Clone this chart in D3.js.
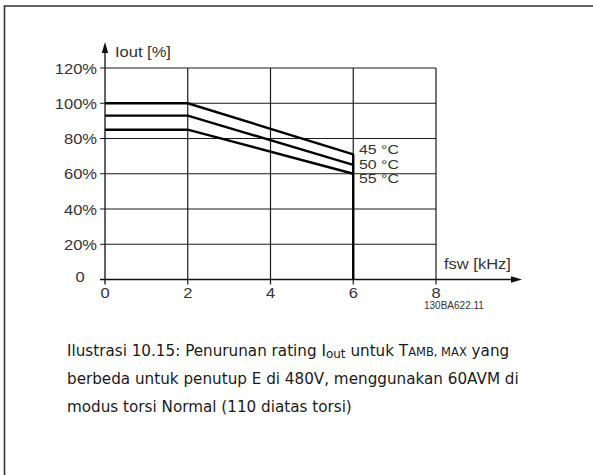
<!DOCTYPE html>
<html>
<head>
<meta charset="utf-8">
<script src="https://cdn.jsdelivr.net/npm/d3@7"></script>
<style>
  html, body { margin: 0; padding: 0; background: #fff; }
  svg { display: block; }
  .lbl { font-family: "Liberation Sans", Arial, sans-serif; fill: #333; }
  .cap { font-family: "DejaVu Sans", sans-serif; fill: #1a1a1a; }
</style>
</head>
<body>
<svg id="chart" width="593" height="475"></svg>
<script>
// Switching frequency (kHz) at the curve break points
const fswPoints = [0, 2, 6];
// Output current derating (%) per ambient temperature
const series = [
  { name: "45 °C", values: [100, 100, 71] },
  { name: "50 °C", values: [93, 93, 65] },
  { name: "55 °C", values: [85, 85, 60] }
];
const xTicks = [0, 2, 4, 6, 8];
const yTicks = [0, 20, 40, 60, 80, 100, 120];
const yTickLabels = ["0", "20%", "40%", "60%", "80%", "100%", "120%"];
const captionLines = [
  [["Ilustrasi 10.15: Penurunan rating I", "n"], ["out", "sub"], [" untuk T", "n"], ["AMB, MAX", "sc"], [" yang", "n"]],
  [["berbeda untuk penutup E di 480V, menggunakan 60AVM di", "n"]],
  [["modus torsi Normal (110 diatas torsi)", "n"]]
];

const svg = d3.select("#chart");
const stretch = 1.18; // chart labels use a wide sans face

// Page frame (top and left rule)
svg.append("path")
  .attr("d", "M4.5,475 L4.5,6 L593,6")
  .attr("fill", "none").attr("stroke", "#333").attr("stroke-width", 1.6);

const x = d3.scaleLinear().domain([0, 8]).range([105, 436]);
const y = d3.scaleLinear().domain([0, 120]).range([279.5, 68]);

// Horizontal grid with left tick stubs
svg.append("g").selectAll("line").data(yTicks.filter(d => d > 0)).join("line")
  .attr("x1", x(0) - 5).attr("x2", x(8))
  .attr("y1", d => y(d)).attr("y2", d => y(d))
  .attr("stroke", "#1a1a1a").attr("stroke-width", 1.2);

// Vertical grid with bottom tick stubs
svg.append("g").selectAll("line").data(xTicks.filter(d => d > 0)).join("line")
  .attr("x1", d => x(d)).attr("x2", d => x(d))
  .attr("y1", y(120)).attr("y2", y(0) + 5)
  .attr("stroke", "#1a1a1a").attr("stroke-width", 1.2);

// Axes with arrows
svg.append("line")
  .attr("x1", x(0) - 5).attr("x2", 514)
  .attr("y1", y(0)).attr("y2", y(0))
  .attr("stroke", "#111").attr("stroke-width", 1.3);
svg.append("path")
  .attr("d", `M522,${y(0)} L511,${y(0) - 3.2} L511,${y(0) + 3.2} Z`)
  .attr("fill", "#111");
svg.append("line")
  .attr("x1", x(0)).attr("x2", x(0))
  .attr("y1", y(0) + 5).attr("y2", 50)
  .attr("stroke", "#111").attr("stroke-width", 1.3);
svg.append("path")
  .attr("d", `M${x(0)},42 L${x(0) - 3.2},53 L${x(0) + 3.2},53 Z`)
  .attr("fill", "#111");

// Derating curves
const line = d3.line().x((d, i) => x(fswPoints[i])).y(d => y(d));
svg.append("g").selectAll("path").data(series).join("path")
  .attr("d", d => line(d.values))
  .attr("fill", "none").attr("stroke", "#000").attr("stroke-width", 2.4)
  .attr("stroke-linejoin", "miter");

// Drop line at the maximum switching frequency
const fMax = fswPoints[fswPoints.length - 1];
svg.append("line")
  .attr("x1", x(fMax)).attr("x2", x(fMax))
  .attr("y1", y(d3.max(series, s => s.values[s.values.length - 1]))).attr("y2", y(0))
  .attr("stroke", "#000").attr("stroke-width", 2.4);

// Helper for horizontally stretched labels
function stretchedText(px, py, txt, anchor, size) {
  svg.append("text").attr("class", "lbl")
    .attr("transform", `translate(${px},${py}) scale(${stretch},1)`)
    .attr("text-anchor", anchor)
    .attr("font-size", size)
    .text(txt);
}

// Y tick labels
yTicks.forEach((d, i) => {
  if (d === 0) stretchedText(80, y(d) + 2, yTickLabels[i], "middle", 14);
  else stretchedText(97, y(d) + 5.5, yTickLabels[i], "end", 14);
});
// X tick labels
xTicks.forEach(d => stretchedText(x(d), 298, String(d), "middle", 14));

// Axis titles
stretchedText(115, 57, "Iout [%]", "start", 14);
stretchedText(444, 269, "fsw [kHz]", "start", 14);

// Curve labels
series.forEach((s, i) => stretchedText(359, 154 + i * 14.5, s.name, "start", 13.5));

// Drawing number
svg.append("text").attr("class", "lbl")
  .attr("x", 424).attr("y", 309).attr("font-size", 10).text("130BA622.11");

// Caption
const cap = svg.append("g");
captionLines.forEach((parts, li) => {
  const t = cap.append("text").attr("class", "cap")
    .attr("x", 67).attr("y", 356 + li * 28).attr("font-size", 15.2);
  parts.forEach(([txt, kind]) => {
    const sp = t.append("tspan").text(txt);
    if (kind === "sub") sp.attr("font-size", 12).attr("baseline-shift", "-1.5");
    if (kind === "sc") sp.attr("font-size", 11.5);
  });
});
</script>
</body>
</html>
